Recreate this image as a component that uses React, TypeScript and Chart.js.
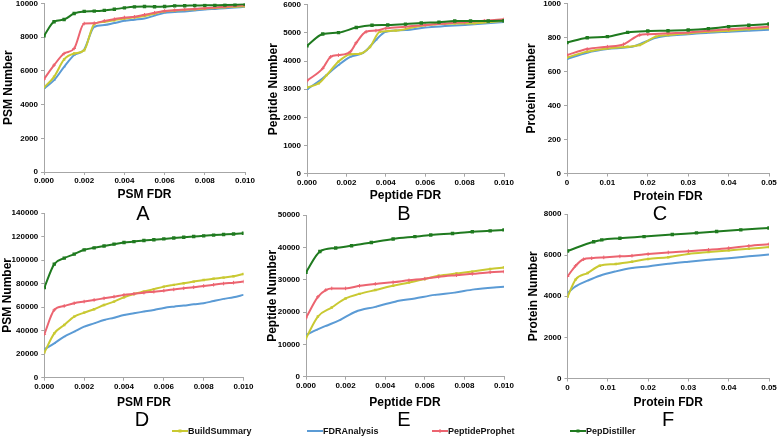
import React, { useEffect, useRef } from "react";
import { Chart, registerables } from "chart.js";
Chart.register(...registerables);

// ---------- DATA ----------
const SERIES = ["BuildSummary", "FDRAnalysis", "PeptideProphet", "PepDistiller"];

// Panel A (PSM, dataset 1)
const aX = [0, 0.0005, 0.001, 0.0015, 0.002, 0.0025, 0.003, 0.0035, 0.004, 0.0045, 0.005, 0.0055, 0.006, 0.0065, 0.007, 0.0075, 0.008, 0.0085, 0.009, 0.0095, 0.01];
const aBuild = [5020, 5650, 6680, 7030, 7230, 8780, 8910, 9010, 9110, 9180, 9250, 9400, 9540, 9580, 9620, 9660, 9700, 9740, 9780, 9810, 9840];
const aFdr = [4960, 5450, 6240, 6940, 7270, 8620, 8720, 8840, 8970, 9040, 9110, 9280, 9450, 9490, 9530, 9580, 9640, 9680, 9720, 9760, 9800];
const aPep = [5510, 6340, 7030, 7330, 8810, 8830, 8970, 9070, 9170, 9210, 9330, 9450, 9560, 9600, 9640, 9680, 9720, 9760, 9800, 9850, 9900];
const aDist = [8080, 8920, 9050, 9410, 9530, 9550, 9590, 9660, 9740, 9800, 9820, 9810, 9820, 9860, 9870, 9880, 9890, 9900, 9910, 9930, 9960];

// Panel B (Peptide, dataset 1)
const bBuildX = [0, 0.0006, 0.001, 0.0016, 0.0022, 0.0027, 0.0032, 0.0037, 0.0045, 0.0055, 0.0065, 0.0075, 0.0085, 0.01];
const bBuild = [3060, 3210, 3500, 3980, 4240, 4260, 4500, 5040, 5080, 5220, 5310, 5330, 5340, 5420];
const bFdrX = [0, 0.0008, 0.0016, 0.0022, 0.0028, 0.003, 0.0035, 0.004, 0.005, 0.006, 0.007, 0.008, 0.009, 0.01];
const bFdr = [2990, 3390, 3860, 4150, 4270, 4370, 4750, 5040, 5100, 5190, 5240, 5280, 5330, 5390];
const bPepX = [0, 0.0008, 0.0012, 0.0016, 0.0022, 0.0025, 0.003, 0.0035, 0.004, 0.005, 0.006, 0.007, 0.008, 0.009, 0.01];
const bPep = [3300, 3740, 4150, 4210, 4330, 4650, 5040, 5080, 5160, 5220, 5280, 5330, 5380, 5430, 5480];
const bDistX = [0, 0.0008, 0.0016, 0.0025, 0.0033, 0.0041, 0.005, 0.0058, 0.0067, 0.0075, 0.0083, 0.0092, 0.01];
const bDist = [4540, 4960, 5010, 5190, 5270, 5280, 5310, 5350, 5380, 5420, 5420, 5420, 5430];

// Panel C (Protein, dataset 1)
const cBuildX = [0, 0.005, 0.01, 0.015, 0.018, 0.022, 0.025, 0.03, 0.035, 0.04, 0.045, 0.05];
const cBuild = [682, 716, 735, 745, 755, 804, 814, 824, 833, 839, 847, 855];
const cFdrX = [0, 0.005, 0.01, 0.015, 0.017, 0.022, 0.025, 0.03, 0.035, 0.04, 0.045, 0.05];
const cFdr = [673, 710, 731, 741, 751, 798, 810, 818, 827, 833, 839, 845];
const cPepX = [0, 0.005, 0.01, 0.014, 0.018, 0.02, 0.025, 0.03, 0.035, 0.04, 0.045, 0.05];
const cPep = [696, 731, 745, 759, 814, 818, 824, 829, 839, 847, 855, 863];
const cDistX = [0, 0.005, 0.01, 0.015, 0.02, 0.025, 0.03, 0.035, 0.04, 0.045, 0.05];
const cDist = [769, 798, 804, 829, 837, 839, 843, 851, 863, 871, 878];

// Panel D (PSM, dataset 2)
const dX = [0, 0.0005, 0.001, 0.0015, 0.002, 0.0025, 0.003, 0.0035, 0.004, 0.0045, 0.005, 0.0055, 0.006, 0.0065, 0.007, 0.0075, 0.008, 0.0085, 0.009, 0.0095, 0.01];
const dBuild = [21300, 37700, 44800, 51900, 55300, 58200, 61800, 64700, 68400, 71200, 73200, 75300, 77400, 78900, 80300, 81700, 83100, 84200, 85100, 86300, 88200];
const dFdr = [24100, 29200, 34900, 39100, 43400, 46200, 49100, 51000, 53300, 54800, 56200, 57600, 59300, 60400, 61300, 62400, 63300, 65200, 67000, 68400, 70400];
const dPep = [36900, 57600, 61000, 63300, 64700, 66100, 67500, 68900, 70400, 71300, 72300, 73100, 74000, 75000, 76000, 76900, 78000, 79000, 80000, 80800, 81700];
const dDist = [76600, 96500, 101600, 105000, 108700, 110400, 112000, 113500, 114900, 115700, 116600, 117300, 118000, 118700, 119400, 120000, 120600, 121200, 121700, 122200, 122800];

// Panel E (Peptide, dataset 2)
const eBuildX = [0, 0.0006, 0.0013, 0.002, 0.0027, 0.0035, 0.0044, 0.0052, 0.006, 0.0067, 0.0076, 0.0084, 0.0093, 0.01];
const eBuild = [11900, 18600, 21400, 24200, 25600, 26800, 28100, 29100, 30200, 31200, 31900, 32500, 33300, 33800];
const eFdrX = [0, 0.0005, 0.001, 0.0017, 0.0025, 0.0035, 0.0045, 0.0055, 0.0065, 0.0075, 0.0085, 0.0095, 0.01];
const eFdr = [12900, 14400, 15700, 17500, 20100, 21600, 23200, 24200, 25300, 26000, 27000, 27600, 27800];
const ePepX = [0, 0.0006, 0.001, 0.0013, 0.002, 0.0027, 0.0035, 0.0044, 0.0052, 0.006, 0.0067, 0.0076, 0.0084, 0.0093, 0.01];
const ePep = [18200, 24700, 26800, 27300, 27300, 28100, 28700, 29200, 29800, 30300, 30900, 31400, 31800, 32300, 32500];
const eDistX = [0, 0.0007, 0.0015, 0.0023, 0.0033, 0.0044, 0.0055, 0.0063, 0.0074, 0.0084, 0.0093, 0.01];
const eDist = [32300, 38700, 39800, 40500, 41500, 42600, 43300, 43800, 44300, 44800, 45100, 45400];

// Panel F (Protein, dataset 2)
const fBuildX = [0, 0.002, 0.005, 0.008, 0.012, 0.016, 0.02, 0.025, 0.03, 0.035, 0.04, 0.045, 0.05];
const fBuild = [3970, 4810, 5130, 5480, 5570, 5680, 5810, 5900, 6060, 6150, 6230, 6310, 6390];
const fFdrX = [0, 0.002, 0.005, 0.008, 0.012, 0.016, 0.02, 0.025, 0.03, 0.035, 0.04, 0.045, 0.05];
const fFdr = [4160, 4480, 4760, 5000, 5210, 5370, 5450, 5580, 5680, 5770, 5850, 5940, 6030];
const fPepX = [0, 0.002, 0.004, 0.006, 0.009, 0.013, 0.016, 0.02, 0.025, 0.03, 0.035, 0.04, 0.045, 0.05];
const fPep = [4960, 5480, 5800, 5850, 5890, 5940, 5970, 6050, 6130, 6190, 6260, 6340, 6450, 6530];
const fDistX = [0, 0.0065, 0.0085, 0.013, 0.019, 0.026, 0.032, 0.037, 0.043, 0.05];
const fDist = [6200, 6650, 6740, 6820, 6900, 7000, 7080, 7150, 7230, 7320];

// ---------- STYLE ----------
const FONT = '"Liberation Sans", Arial, sans-serif';
const STYLE: Record<string, any> = {
  BuildSummary: { color: "#c9c932", pointStyle: "rect", radius: 1.7, pbw: 0, order: 2 },
  FDRAnalysis: { color: "#5b9bd5", pointStyle: "dash", radius: 1.6, pbw: 1, order: 3 },
  PeptideProphet: { color: "#ec6470", pointStyle: "cross", radius: 1.8, pbw: 1, order: 1 },
  PepDistiller: { color: "#1f7a1f", pointStyle: "rect", radius: 2.4, pbw: 0, order: 0 },
};

const PANELS = [
  { letter: "A", L: 44, R: 245, T: 3.5, B: 172, yTitleX: 8, xTitleY: 195, letterX: 143, letterY: 213,
    xMax: 0.01, xStep: 0.002, xDec: 3, yMax: 10000, yStep: 2000, xTitle: "PSM FDR", yTitle: "PSM Number",
    data: [[aX, aBuild], [aX, aFdr], [aX, aPep], [aX, aDist]] },
  { letter: "B", L: 307, R: 504, T: 4.7, B: 173.7, yTitleX: 273, xTitleY: 196, letterX: 404, letterY: 213,
    xMax: 0.01, xStep: 0.002, xDec: 3, yMax: 6000, yStep: 1000, xTitle: "Peptide FDR", yTitle: "Peptide Number",
    data: [[bBuildX, bBuild], [bFdrX, bFdr], [bPepX, bPep], [bDistX, bDist]] },
  { letter: "C", L: 567, R: 769, T: 3.3, B: 173.5, yTitleX: 531, xTitleY: 197, letterX: 660, letterY: 213,
    xMax: 0.05, xStep: 0.01, xDec: 2, yMax: 1000, yStep: 200, xTitle: "Protein FDR", yTitle: "Protein Number",
    data: [[cBuildX, cBuild], [cFdrX, cFdr], [cPepX, cPep], [cDistX, cDist]] },
  { letter: "D", L: 44.3, R: 243.5, T: 213, B: 377.7, yTitleX: 7, xTitleY: 403, letterX: 142, letterY: 419,
    xMax: 0.01, xStep: 0.002, xDec: 3, yMax: 140000, yStep: 20000, xTitle: "PSM FDR", yTitle: "PSM Number",
    data: [[dX, dBuild], [dX, dFdr], [dX, dPep], [dX, dDist]] },
  { letter: "E", L: 306, R: 504, T: 215, B: 376.7, yTitleX: 272, xTitleY: 402.5, letterX: 404, letterY: 419,
    xMax: 0.01, xStep: 0.002, xDec: 3, yMax: 50000, yStep: 10000, xTitle: "Peptide FDR", yTitle: "Peptide Number",
    data: [[eBuildX, eBuild], [eFdrX, eFdr], [ePepX, ePep], [eDistX, eDist]] },
  { letter: "F", L: 567.5, R: 769, T: 214, B: 378.5, yTitleX: 533, xTitleY: 402.5, letterX: 668, letterY: 419,
    xMax: 0.05, xStep: 0.01, xDec: 2, yMax: 8000, yStep: 2000, xTitle: "Protein FDR", yTitle: "Protein Number",
    data: [[fBuildX, fBuild], [fFdrX, fFdr], [fPepX, fPep], [fDistX, fDist]] },
];

const LEGEND_X = [172, 307, 432, 570];
const AXIS_COLOR = "#a6a6a6";
const TITLE_LH = 12 * 1.2;

function Panel({ p }: { p: any }) {
  const ref = useRef<HTMLCanvasElement>(null);
  const canvasLeft = Math.round(p.yTitleX - TITLE_LH / 2);
  const canvasTop = Math.floor(p.T - 6);
  const width = Math.round(p.R + 12 - canvasLeft);
  const height = Math.round(p.xTitleY + TITLE_LH / 2 - canvasTop);
  const padTop = p.T - canvasTop;
  const padRight = canvasLeft + width - p.R;
  const yWidth = p.L - canvasLeft;
  const xHeight = canvasTop + height - p.B;

  useEffect(() => {
    const datasets = SERIES.map((name, i) => {
      const [xs, ys] = p.data[i];
      const st = STYLE[name];
      return {
        label: name,
        data: xs.map((x: number, j: number) => ({ x, y: ys[j] })),
        borderColor: st.color,
        backgroundColor: st.color,
        borderWidth: 2,
        pointStyle: st.pointStyle,
        pointRadius: st.radius,
        pointBorderWidth: st.pbw,
        pointBorderColor: st.color,
        pointBackgroundColor: st.color,
        cubicInterpolationMode: "monotone",
        order: st.order,
      };
    });
    const chart = new Chart(ref.current as HTMLCanvasElement, {
      type: "line",
      data: { datasets } as any,
      options: {
        animation: false,
        responsive: false,
        maintainAspectRatio: false,
        layout: { padding: { left: 0, top: padTop, right: padRight, bottom: 0 } },
        plugins: { legend: { display: false }, tooltip: { enabled: false } },
        scales: {
          x: {
            type: "linear",
            min: 0,
            max: p.xMax,
            grid: { drawOnChartArea: false, drawTicks: true, tickLength: 3, color: AXIS_COLOR },
            border: { display: true, color: AXIS_COLOR, width: 1 },
            ticks: {
              stepSize: p.xStep,
              padding: 1,
              maxRotation: 0,
              autoSkip: false,
              color: "#000",
              font: { family: FONT, size: 8, weight: "bold" },
              callback: (v: any) => (p.xDec === 2 && Number(v) === 0 ? "0" : Number(v).toFixed(p.xDec)),
            },
            title: {
              display: true,
              text: p.xTitle,
              color: "#000",
              padding: 0,
              font: { family: FONT, size: 12, weight: "bold", lineHeight: 1.2 },
            },
            afterFit: (s: any) => {
              s.height = xHeight;
              s.paddingLeft = 0;
              s.paddingRight = 0;
              s.paddingTop = 0;
              s.paddingBottom = 0;
            },
          },
          y: {
            type: "linear",
            min: 0,
            max: p.yMax,
            grid: { drawOnChartArea: false, drawTicks: true, tickLength: 3, color: AXIS_COLOR },
            border: { display: true, color: AXIS_COLOR, width: 1 },
            ticks: {
              stepSize: p.yStep,
              padding: 3,
              color: "#000",
              font: { family: FONT, size: 8, weight: "bold" },
              callback: (v: any) => String(Math.round(Number(v))),
            },
            title: {
              display: true,
              text: p.yTitle,
              color: "#000",
              padding: 0,
              font: { family: FONT, size: 12, weight: "bold", lineHeight: 1.2 },
            },
            afterFit: (s: any) => {
              s.width = yWidth;
              s.paddingLeft = 0;
              s.paddingRight = 0;
              s.paddingTop = 0;
              s.paddingBottom = 0;
            },
          },
        },
      } as any,
    });
    return () => chart.destroy();
  }, []);

  return (
    <>
      <canvas
        ref={ref}
        width={width}
        height={height}
        style={{ position: "absolute", left: canvasLeft, top: canvasTop, width, height }}
      />
      <div
        style={{
          position: "absolute",
          left: p.letterX,
          top: p.letterY,
          transform: "translate(-50%, -50%)",
          font: `20px ${FONT}`,
          color: "#000",
          whiteSpace: "nowrap",
        }}
      >
        {p.letter}
      </div>
    </>
  );
}

function LegendItem({ name, x }: { name: string; x: number }) {
  const st = STYLE[name];
  return (
    <div
      style={{
        position: "absolute",
        left: x,
        top: 425,
        height: 12,
        display: "flex",
        alignItems: "center",
        whiteSpace: "nowrap",
      }}
    >
      <svg width={16} height={12} style={{ display: "block" }}>
        <line x1={0} y1={6} x2={16} y2={6} stroke={st.color} strokeWidth={2} />
        {st.pointStyle === "rect" ? (
          <rect x={6.5} y={4.5} width={3} height={3} fill={st.color} />
        ) : st.pointStyle === "cross" ? (
          <line x1={8} y1={4} x2={8} y2={8} stroke={st.color} strokeWidth={1} />
        ) : null}
      </svg>
      <span style={{ font: `bold 9px ${FONT}`, color: "#111" }}>{name}</span>
    </div>
  );
}

export default function App() {
  return (
    <div
      style={{
        position: "absolute",
        left: 0,
        top: 0,
        width: 778,
        height: 437,
        overflow: "hidden",
        background: "#fff",
      }}
    >
      {PANELS.map((p) => (
        <Panel key={p.letter} p={p} />
      ))}
      {SERIES.map((name, i) => (
        <LegendItem key={name} name={name} x={LEGEND_X[i]} />
      ))}
    </div>
  );
}
